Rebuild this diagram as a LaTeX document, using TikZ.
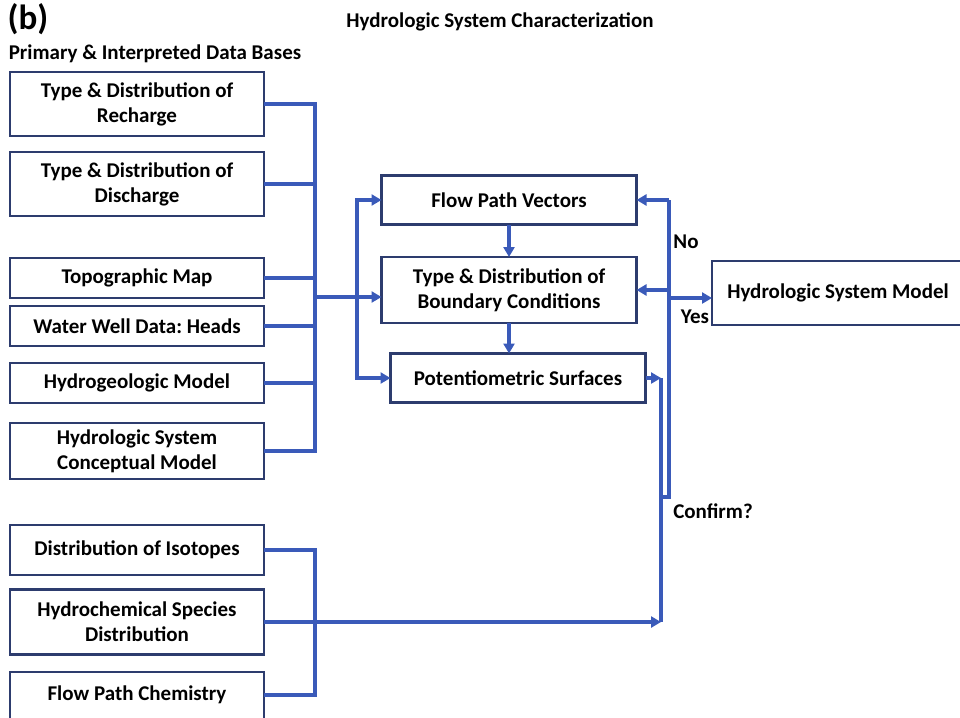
\documentclass[tikz,border=0pt]{standalone}
\usepackage{fontspec}
\setmainfont{Carlito}
\usetikzlibrary{arrows.meta}
\definecolor{boxnavy}{RGB}{45,60,110}
\definecolor{linkblue}{RGB}{58,90,185}
\frenchspacing

\begin{document}
\begin{tikzpicture}
        [x=1pt, y=-1pt,
         font=\fontsize{21}{25}\selectfont\bfseries,
         every node/.style={inner sep=0pt, outer sep=0pt},
         databox/.style={draw=boxnavy, line width=2.8pt, minimum width=254pt, align=center},
         stagebox/.style={draw=boxnavy, line width=2.8pt, minimum width=255pt, align=center},
         link/.style={draw=linkblue, line width=3.2pt},
         post/.style={link, -{Triangle[length=10pt, width=11pt]}, shorten >= 0pt}]

        \useasboundingbox (0,0) rectangle (960,717);

        % headings
        \node[font=\fontsize{35}{35}\selectfont\bfseries] (panel) at (28,19) {(b)};
        \node (title) at (500,22) {Hydrologic System Characterization};
        \node (bases) at (155,54) {Primary \& Interpreted Data Bases};

        % primary data bases
        \node[databox, minimum height=64pt] (recharge) at (137,104) {Type \& Distribution of\\Recharge};
        \node[databox, minimum height=64pt] (discharge) at (137,184) {Type \& Distribution of\\Discharge};
        \node[databox, minimum height=40pt] (topo) at (137,278) {Topographic Map};
        \node[databox, minimum height=40pt] (wells) at (137,326) {Water Well Data: Heads};
        \node[databox, minimum height=40pt] (hydrogeo) at (137,383) {Hydrogeologic Model};
        \node[databox, minimum height=56pt] (concept) at (137,451) {Hydrologic System\\Conceptual Model};
        \node[databox, minimum height=50pt] (isotopes) at (137,550) {Distribution of Isotopes};
        \node[databox, minimum height=65pt] (species) at (137,622) {Hydrochemical Species\\Distribution};
        \node[databox, minimum height=60pt] (chem) at (137,702) {};
        \node (chemtext) at (137,695) {Flow Path Chemistry};

        % characterization steps
        \node[stagebox, minimum height=49pt] (vectors) at (509,200) {Flow Path Vectors};
        \node[stagebox, minimum height=66pt] (boundary) at (509,290) {Type \& Distribution of\\Boundary Conditions};
        \node[stagebox, minimum height=49pt] (surfaces) at (518,378) {Potentiometric Surfaces};
        \node[stagebox, minimum height=64pt, minimum width=280pt, anchor=west] (model) at (712,293) {};
        \node (modeltext) at (838,293) {Hydrologic System Model};

        % junctions
        \coordinate (gather) at (315,297);
        \coordinate (spread) at (357,297);
        \coordinate (merge) at (661,622);
        \coordinate (check) at (661,497);
        \coordinate (decide) at (669,497);

        % data bases to boundary conditions
        \foreach \src in {recharge, discharge, topo, wells, hydrogeo, concept}
                \draw[link] (\src.east) -| (gather);
        \draw[post] (gather) -- (gather -| boundary.west);
        \draw[post] (spread) |- (vectors.west);
        \draw[post] (spread) |- (surfaces.west);

        \draw[post] (vectors.south) -- (boundary.north);
        \draw[post] (boundary.south) -- (boundary.south |- surfaces.north);

        % chemistry bus
        \draw[link] (isotopes.east) -| (315,622);
        \draw[link] (chem.east |- chemtext) -| (315,622);
        \draw[post] (species.east) -- (merge);

        % confirmation loop
        \draw[post] (surfaces.east) -- (surfaces.east -| merge);
        \draw[link] (surfaces.east -| merge) -- (merge);
        \draw[link] (check) -- (decide) -- (decide |- vectors.east);
        \draw[post] (decide |- vectors.east) -- (vectors.east);
        \draw[post] (decide |- boundary.east) -- (boundary.east);
        \draw[post] (decide |- 0,298) -- (model.west |- 0,298);

        \node (no) at (686,242) {No};
        \node (yes) at (695,317) {Yes};
        \node (confirm) at (713,511) {Confirm?};
\end{tikzpicture}
\end{document}
